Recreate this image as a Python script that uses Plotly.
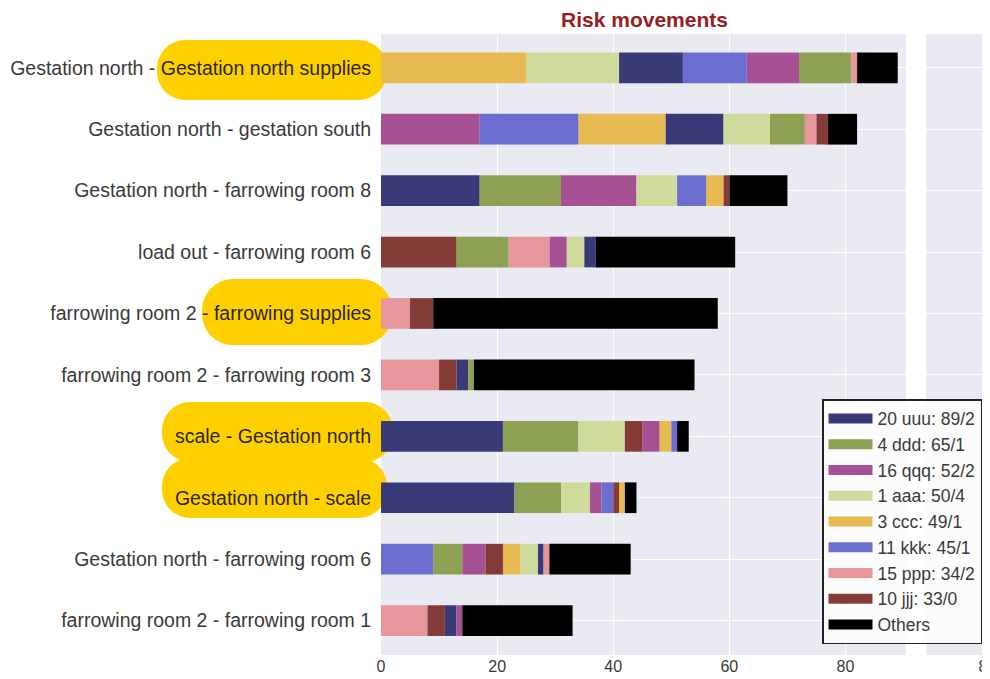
import plotly.graph_objects as go

# ---------------- data ----------------
categories = [
    "Gestation north - Gestation north supplies",
    "Gestation north - gestation south",
    "Gestation north - farrowing room 8",
    "load out - farrowing room 6",
    "farrowing room 2 - farrowing supplies",
    "farrowing room 2 - farrowing room 3",
    "scale - Gestation north",
    "Gestation north - scale",
    "Gestation north - farrowing room 6",
    "farrowing room 2 - farrowing room 1",
]

series_keys = ["uuu", "ddd", "qqq", "aaa", "ccc", "kkk", "ppp", "jjj", "others"]
series_labels = ["20 uuu: 89/2", "4 ddd: 65/1", "16 qqq: 52/2", "1 aaa: 50/4",
                 "3 ccc: 49/1", "11 kkk: 45/1", "15 ppp: 34/2", "10 jjj: 33/0", "Others"]

uuu = [11, 10, 17, 2, 0, 2, 21, 23, 1, 2]
ddd = [9, 6, 14, 9, 0, 1, 13, 8, 5, 0]
qqq = [9, 17, 13, 3, 0, 0, 3, 2, 4, 1]
aaa = [16, 8, 7, 3, 0, 0, 8, 5, 3, 0]
ccc = [25, 15, 3, 0, 0, 0, 2, 1, 3, 0]
kkk = [11, 17, 5, 0, 0, 0, 1, 2, 9, 0]
ppp = [1, 2, 0, 7, 5, 10, 0, 0, 1, 8]
jjj = [0, 2, 1, 13, 4, 3, 3, 1, 3, 3]
others = [7, 5, 10, 24, 49, 38, 2, 2, 14, 19]

# stacking order inside each row (left to right)
stack_order = [
    ["ccc", "aaa", "uuu", "kkk", "qqq", "ddd", "ppp", "others"],
    ["qqq", "kkk", "ccc", "uuu", "aaa", "ddd", "ppp", "jjj", "others"],
    ["uuu", "ddd", "qqq", "aaa", "kkk", "ccc", "jjj", "others"],
    ["jjj", "ddd", "ppp", "qqq", "aaa", "uuu", "others"],
    ["ppp", "jjj", "others"],
    ["ppp", "jjj", "uuu", "ddd", "others"],
    ["uuu", "ddd", "aaa", "jjj", "qqq", "ccc", "kkk", "others"],
    ["uuu", "ddd", "aaa", "qqq", "kkk", "jjj", "ccc", "others"],
    ["kkk", "ddd", "qqq", "jjj", "ccc", "aaa", "uuu", "ppp", "others"],
    ["ppp", "jjj", "uuu", "qqq", "others"],
]

# highlighted label parts: (row index, plain prefix, highlighted part)
highlights = [
    (0, "Gestation north - ", "Gestation north supplies"),
    (4, "farrowing room 2", " - farrowing supplies"),
    (6, "", "scale - Gestation north"),
    (7, "", "Gestation north - scale"),
]

# ---------------- styling ----------------
colors = {
    "uuu": "#393b79", "ddd": "#8ca252", "qqq": "#a55194", "aaa": "#cedb9c",
    "ccc": "#e7ba52", "kkk": "#6b6ecf", "ppp": "#e7969c", "jjj": "#843c39",
    "others": "#000000",
}
FONT = "Liberation Sans, Arial, sans-serif"
TXT = "#3a3a3a"
OFF = 8                      # page body margin
W, H = 990 - OFF, 679 - OFF
# plot area in page pixels
PL, PT, PB = 381, 34, 655
ML, MR, MT, MB = PL - OFF, 0, PT - OFF, 679 - PB

values = dict(uuu=uuu, ddd=ddd, qqq=qqq, aaa=aaa, ccc=ccc, kkk=kkk,
              ppp=ppp, jjj=jjj, others=others)

# compute bases from stacking order
bases = {k: [0] * len(categories) for k in series_keys}
for i, order in enumerate(stack_order):
    acc = 0
    for k in order:
        bases[k][i] = acc
        acc += values[k][i]

fig = go.Figure()
for k, lab in zip(series_keys, series_labels):
    fig.add_trace(go.Bar(
        y=categories, x=values[k], base=bases[k], orientation="h",
        width=0.5, marker=dict(color=colors[k], line=dict(width=0)),
        name=lab, legendgroup=k, showlegend=False,
    ))
    # legend swatch proxy
    fig.add_trace(go.Scatter(
        x=[None], y=[None], mode="lines", name=lab, legendgroup=k,
        line=dict(color=colors[k], width=12), showlegend=True,
    ))

# second (partial) panel on the right
fig.add_trace(go.Scatter(
    x=[75] * len(categories), y=categories, mode="markers",
    marker=dict(opacity=0), showlegend=False, hoverinfo="skip",
    xaxis="x2", yaxis="y2",
))

ticktext = list(categories)
for i, pre, hl in highlights:
    ticktext[i] = pre + "<span style='color:#2e2600'>" + hl + "</span>"

pw = W - ML - MR
ph = H - MT - MB


def px_x(p):
    return (p - PL) / pw


def px_y(p):
    return (PB - p) / ph


def pill(x0, y0, x1, y1):
    r = (y1 - y0) / 2 * 0.95
    k = 0.5523 * r
    X, Y = px_x, px_y
    d = f"M{X(x0 + r)},{Y(y0)} L{X(x1 - r)},{Y(y0)} "
    d += f"C{X(x1 - r + k)},{Y(y0)} {X(x1)},{Y(y0 + r - k)} {X(x1)},{Y(y0 + r)} "
    d += f"L{X(x1)},{Y(y1 - r)} "
    d += f"C{X(x1)},{Y(y1 - r + k)} {X(x1 - r + k)},{Y(y1)} {X(x1 - r)},{Y(y1)} "
    d += f"L{X(x0 + r)},{Y(y1)} "
    d += f"C{X(x0 + r - k)},{Y(y1)} {X(x0)},{Y(y1 - r + k)} {X(x0)},{Y(y1 - r)} "
    d += f"L{X(x0)},{Y(y0 + r)} "
    d += f"C{X(x0)},{Y(y0 + r - k)} {X(x0 + r - k)},{Y(y0)} {X(x0 + r)},{Y(y0)} Z"
    return d


pill_boxes = [(157, 40, 387, 100), (202, 279, 392, 345),
              (162, 402, 393, 462), (162, 458, 387, 518)]
shapes = [dict(type="path", xref="paper", yref="paper", path=pill(*b),
               fillcolor="#FFD000", line=dict(width=0), layer="below")
          for b in pill_boxes]

SCALE = 5.806  # px per unit on the x axes
grid = "white"
fig.update_layout(
    width=W, height=H,
    margin=dict(l=ML, r=MR, t=MT, b=MB, pad=0, autoexpand=False),
    paper_bgcolor="white", plot_bgcolor="#EAEAF2",
    barmode="overlay",
    font=dict(family=FONT, color=TXT),
    title=dict(text="<b>Risk movements</b>", font=dict(size=21, color="#9b1c1c", family=FONT),
               xref="paper", x=px_x(644.5), xanchor="center",
               yref="container", y=1 - (20 - OFF) / H, yanchor="middle"),
    xaxis=dict(domain=[0, px_x(906)], range=[0, (906 - PL) / SCALE],
               tickvals=[0, 20, 40, 60, 80],
               showgrid=True, gridcolor=grid, gridwidth=1.2, zeroline=False, showline=False,
               ticks="",
               tickfont=dict(size=16, color=TXT, family=FONT)),
    yaxis=dict(type="category", categoryarray=categories, range=[9.56, -0.55],
               tickvals=categories, ticktext=ticktext,
               showgrid=True, gridcolor=grid, gridwidth=1.2, zeroline=False, showline=False,
               ticks="outside", ticklen=5, tickcolor="rgba(0,0,0,0)",
               tickfont=dict(size=19.5, color=TXT, family=FONT)),
    xaxis2=dict(domain=[px_x(926), 1], anchor="y2",
                range=[80 - (987.5 - 926) / SCALE, 80 + (990 - 987.5) / SCALE],
                tickvals=[80],
                showgrid=True, gridcolor=grid, gridwidth=1.2, zeroline=False, showline=False,
                ticks="", ticklabeloverflow="allow",
                tickfont=dict(size=16, color=TXT, family=FONT)),
    yaxis2=dict(type="category", categoryarray=categories, anchor="x2", matches="y",
                showticklabels=False, showgrid=True, gridcolor=grid, gridwidth=1.2,
                zeroline=False, showline=False, ticks=""),
    legend=dict(x=px_x(822), y=px_y(399), xanchor="left", yanchor="top",
                bgcolor="rgba(255,255,255,0.85)", bordercolor="#222222", borderwidth=1.5,
                font=dict(size=17.5, color=TXT, family=FONT),
                itemwidth=44, tracegroupgap=0, traceorder="normal"),
    shapes=shapes,
    showlegend=True,
)

fig.write_html("out.html")
